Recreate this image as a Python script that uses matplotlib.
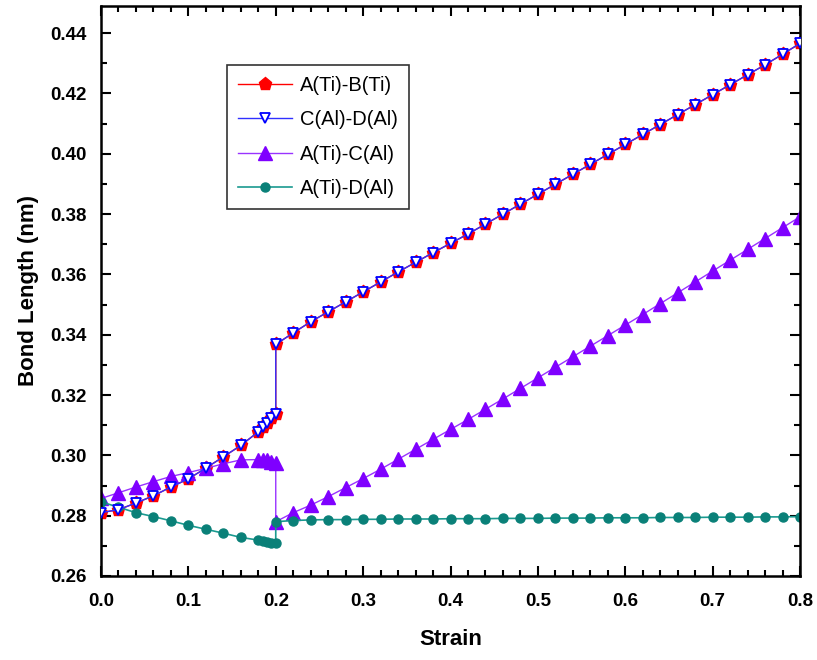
import matplotlib
matplotlib.use("Agg")
import matplotlib.pyplot as plt
from matplotlib.ticker import MultipleLocator, FormatStrFormatter

plt.rcParams['font.family'] = ['Liberation Sans', 'DejaVu Sans']

# strain points before the jump (with the extra points near 0.2)
strain_pre = [0.00, 0.02, 0.04, 0.06, 0.08, 0.10, 0.12, 0.14, 0.16,
              0.18, 0.185, 0.19, 0.195, 0.20]
# strain points after the jump
strain_post = [0.20, 0.22, 0.24, 0.26, 0.28, 0.30, 0.32, 0.34, 0.36, 0.38,
               0.40, 0.42, 0.44, 0.46, 0.48, 0.50, 0.52, 0.54, 0.56, 0.58,
               0.60, 0.62, 0.64, 0.66, 0.68, 0.70, 0.72, 0.74, 0.76, 0.78, 0.80]

# A(Ti)-B(Ti) and C(Al)-D(Al) (nearly identical)
ab_pre = [0.2810, 0.2820, 0.2842, 0.2866, 0.2895, 0.2922, 0.2958, 0.2995, 0.3033,
          0.3078, 0.3095, 0.3108, 0.3125, 0.3137]
ab_post = [0.3368, 0.3406, 0.3443, 0.3476, 0.3509, 0.3542, 0.3575, 0.3608, 0.3640, 0.3672,
           0.3703, 0.3734, 0.3767, 0.3800, 0.3833, 0.3866, 0.3899, 0.3932, 0.3965, 0.3998,
           0.4031, 0.4064, 0.4097, 0.4130, 0.4163, 0.4196, 0.4229, 0.4262, 0.4295, 0.4330, 0.4366]
cd_pre = ab_pre
cd_post = ab_post

# A(Ti)-C(Al)
ac_pre = [0.2857, 0.2876, 0.2895, 0.2913, 0.2930, 0.2943, 0.2957, 0.2972, 0.2985,
          0.2986, 0.2985, 0.2983, 0.2979, 0.2975]
ac_post = [0.2780, 0.2810, 0.2835, 0.2863, 0.2893, 0.2923, 0.2954, 0.2987, 0.3020, 0.3053,
           0.3086, 0.3119, 0.3153, 0.3187, 0.3222, 0.3257, 0.3292, 0.3327, 0.3362, 0.3397,
           0.3432, 0.3467, 0.3503, 0.3539, 0.3575, 0.3611, 0.3647, 0.3683, 0.3719, 0.3755, 0.3791]

# A(Ti)-D(Al)
ad_pre = [0.2846, 0.2828, 0.2810, 0.2797, 0.2783, 0.2768, 0.2755, 0.2742, 0.2728,
          0.2719, 0.2716, 0.2713, 0.2711, 0.2709]
ad_post = [0.2780, 0.2784, 0.2786, 0.2787, 0.2787, 0.2788, 0.2788, 0.2789, 0.2789, 0.2789,
           0.2790, 0.2790, 0.2790, 0.2791, 0.2791, 0.2791, 0.2792, 0.2792, 0.2792, 0.2793,
           0.2793, 0.2793, 0.2794, 0.2794, 0.2794, 0.2795, 0.2795, 0.2795, 0.2796, 0.2796, 0.2797]

labels = ['A(Ti)-B(Ti)', 'C(Al)-D(Al)', 'A(Ti)-C(Al)', 'A(Ti)-D(Al)']

x_all = strain_pre + strain_post
fig = plt.figure(figsize=(8.17, 6.60), dpi=100)
ax = fig.add_axes([101/817, 84/660, 699/817, 570/660])

ax.plot(x_all, ab_pre + ab_post, color='#ff0000', lw=1.0, marker='p', ms=9.5,
        mfc='#ff0000', mec='#ff0000', label=labels[0], zorder=2)
ax.plot(x_all, cd_pre + cd_post, color='#3030ff', lw=1.0, marker='v', ms=7.5,
        mfc='white', mec='#0000ff', mew=1.3, label=labels[1], zorder=3)
ax.plot(x_all, ac_pre + ac_post, color='#9933ff', lw=1.0, marker='^', ms=9.5,
        mfc='#7f00ff', mec='#7f00ff', label=labels[2], zorder=2)
ax.plot(x_all, ad_pre + ad_post, color='#1a9a90', lw=1.2, marker='o', ms=6.5,
        mfc='#0a8078', mec='#0a8078', label=labels[3], zorder=2)

ax.set_xlim(0.0, 0.8)
ax.set_ylim(0.26, 0.449)
ax.xaxis.set_major_locator(MultipleLocator(0.1))
ax.xaxis.set_minor_locator(MultipleLocator(0.02))
ax.yaxis.set_major_locator(MultipleLocator(0.02))
ax.yaxis.set_minor_locator(MultipleLocator(0.01))
ax.xaxis.set_major_formatter(FormatStrFormatter('%.1f'))
ax.yaxis.set_major_formatter(FormatStrFormatter('%.2f'))

ax.tick_params(which='both', direction='in', top=True, right=True, width=1.5)
ax.tick_params(which='major', length=7, labelsize=13.5)
ax.tick_params(axis='x', which='major', pad=12)
ax.tick_params(axis='y', which='major', pad=10)
ax.tick_params(which='minor', length=4)
for lab in ax.get_xticklabels() + ax.get_yticklabels():
    lab.set_fontweight('bold')
for s in ax.spines.values():
    s.set_linewidth(1.8)

ax.set_xlabel('Strain', fontsize=16, fontweight='bold', labelpad=14)
ax.set_ylabel('Bond Length (nm)', fontsize=16, fontweight='bold', labelpad=8)

leg = ax.legend(loc='upper left', bbox_to_anchor=(0.180, 0.896), fontsize=14.5,
                frameon=True, fancybox=False, edgecolor='black', handlelength=2.7,
                borderpad=0.55, labelspacing=0.75, handletextpad=0.4,
                borderaxespad=0.0)
leg.get_frame().set_linewidth(1.2)

fig.savefig('out.png', dpi=100)
